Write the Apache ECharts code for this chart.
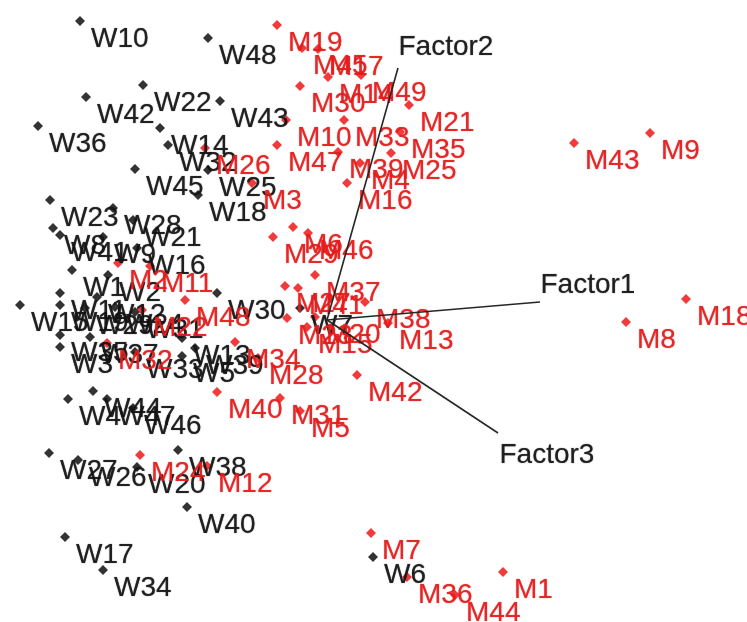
<!DOCTYPE html>
<html>
<head>
<meta charset="utf-8">
<title>Factor biplot</title>
<script src="https://cdn.jsdelivr.net/npm/echarts@6/dist/echarts.min.js"></script>
<style>
  html, body { margin: 0; padding: 0; background: #ffffff; }
  #chart { width: 747px; height: 622px; }
</style>
</head>
<body>
<div id="chart"></div>
<script>
// W observations: names and scores on the first two dimensions
const wNames = ['W10','W48','W22','W42','W43','W36','W14','W32','W45','W25','W18','W23',
  'W28','W8','W41','W21','W9','W16','W1','W2','W15','W11','W19','W12','W29','W24','W31',
  'W35','W3','W37','W33','W13','W39','W5','W30','W7','W4','W44','W47','W46','W27','W26',
  'W20','W38','W40','W17','W34','W6'];
const wScores = [[-2.47,2.99],[-1.19,2.82],[-1.84,2.35],[-2.41,2.23],[-1.07,2.19],[-2.89,1.94],
  [-1.67,1.92],[-1.59,1.75],[-1.92,1.51],[-1.19,1.50],[-1.29,1.25],[-2.77,1.20],
  [-2.14,1.12],[-2.74,0.92],[-2.67,0.85],[-1.94,1.00],[-2.24,0.83],[-1.90,0.72],
  [-2.55,0.50],[-2.19,0.45],[-3.07,0.15],[-2.67,0.27],[-2.67,0.15],[-2.30,0.23],
  [-2.42,0.12],[-2.12,0.13],[-1.92,0.08],[-2.67,-0.15],[-2.67,-0.27],[-2.37,-0.17],
  [-1.92,-0.32],[-1.45,-0.18],[-1.32,-0.28],[-1.45,-0.36],[-1.10,0.27],[-0.27,0.12],
  [-2.59,-0.79],[-2.34,-0.71],[-2.20,-0.79],[-1.94,-0.88],[-2.78,-1.33],[-2.49,-1.40],
  [-1.90,-1.47],[-1.49,-1.30],[-1.40,-1.87],[-2.62,-2.17],[-2.24,-2.50],[0.46,-2.37]];

// M observations
const mNames = ['M19','M45','M17','M14','M49','M30','M21','M10','M33','M35','M47','M39',
  'M25','M4','M16','M26','M3','M6','M29','M46','M37','M27','M41','M38','M13','M23','M20',
  'M15','M42','M34','M28','M40','M31','M5','M2','M11','M48','M22','M32','M12','M24','M7',
  'M36','M44','M1','M43','M9','M8','M18'];
const mScores = [[-0.50,2.95],[-0.25,2.72],[-0.09,2.71],[0.01,2.43],[0.34,2.45],[-0.27,2.34],
  [0.82,2.15],[-0.41,2.00],[0.17,2.00],[0.73,1.88],[-0.50,1.75],[0.11,1.68],
  [0.64,1.67],[0.33,1.57],[0.20,1.37],[-1.22,1.72],[-0.75,1.37],[-0.34,0.93],
  [-0.54,0.83],[-0.19,0.87],[-0.12,0.45],[-0.42,0.34],[-0.29,0.32],[0.38,0.18],
  [0.61,-0.03],[-0.40,0.02],[-0.12,0.03],[-0.20,-0.07],[0.30,-0.55],[-0.92,-0.22],
  [-0.69,-0.38],[-1.10,-0.72],[-0.47,-0.78],[-0.27,-0.91],[-2.09,0.57],[-1.77,0.54],
  [-1.42,0.20],[-1.85,0.10],[-2.20,-0.23],[-1.20,-1.46],[-1.87,-1.35],[0.44,-2.13],
  [0.80,-2.57],[1.28,-2.75],[1.76,-2.52],[2.47,1.77],[3.23,1.87],[2.99,-0.02],[3.59,0.21]];

// Factor loading vectors (drawn from the origin)
const factorNames = ['Factor1','Factor2','Factor3'];
const factorEnds = [[2.13,0.18],[0.71,2.52],[1.71,-1.13]];

// label offsets for the factor names, in pixels
const factorLabelOffset = { Factor1: [0,-17], Factor2: [0,-21], Factor3: [1,22] };

const FONT = '"Liberation Sans", Arial, sans-serif';
const DARK = '#141414';
const RED_MARK = '#ee0a0a';
const RED_TEXT = '#e41c1c';

const chart = echarts.init(document.getElementById('chart'), null, { renderer: 'canvas' });

function textStyle(color) {
  return {
    color: color,
    fontFamily: FONT,
    fontSize: 28,
    textShadowColor: color,
    textShadowBlur: 1
  };
}

function pointSeries(names, scores, markColor, textColor) {
  return {
    type: 'scatter',
    symbol: 'diamond',
    symbolSize: 10,
    itemStyle: { color: markColor },
    label: Object.assign({
      show: true,
      position: 'right',
      distance: 4,
      offset: [2, 18],
      formatter: p => p.name
    }, textStyle(textColor)),
    emphasis: { disabled: true },
    data: names.map((n, i) => ({ name: n, value: scores[i] }))
  };
}

const series = [];

factorNames.forEach((name, i) => {
  series.push({
    type: 'line',
    showSymbol: false,
    silent: true,
    lineStyle: { color: '#262626', width: 1.6 },
    data: [[0, 0], factorEnds[i]]
  });
});

series.push(pointSeries(wNames, wScores, '#000000', DARK));
series.push(pointSeries(mNames, mScores, RED_MARK, RED_TEXT));

series.push({
  type: 'scatter',
  symbolSize: 1,
  itemStyle: { color: 'rgba(0,0,0,0)' },
  silent: true,
  data: factorNames.map((n, i) => ({
    name: n,
    value: factorEnds[i],
    label: Object.assign({
      show: true,
      position: 'right',
      distance: 0,
      offset: factorLabelOffset[n],
      formatter: n
    }, textStyle(DARK))
  }))
});

chart.setOption({
  animation: false,
  backgroundColor: '#ffffff',
  grid: { left: 0, right: 0, top: 0, bottom: 0 },
  xAxis: { type: 'value', min: -3.27, max: 4.20, show: false },
  yAxis: { type: 'value', min: -3.02, max: 3.20, show: false },
  series: series
});
</script>
</body>
</html>
